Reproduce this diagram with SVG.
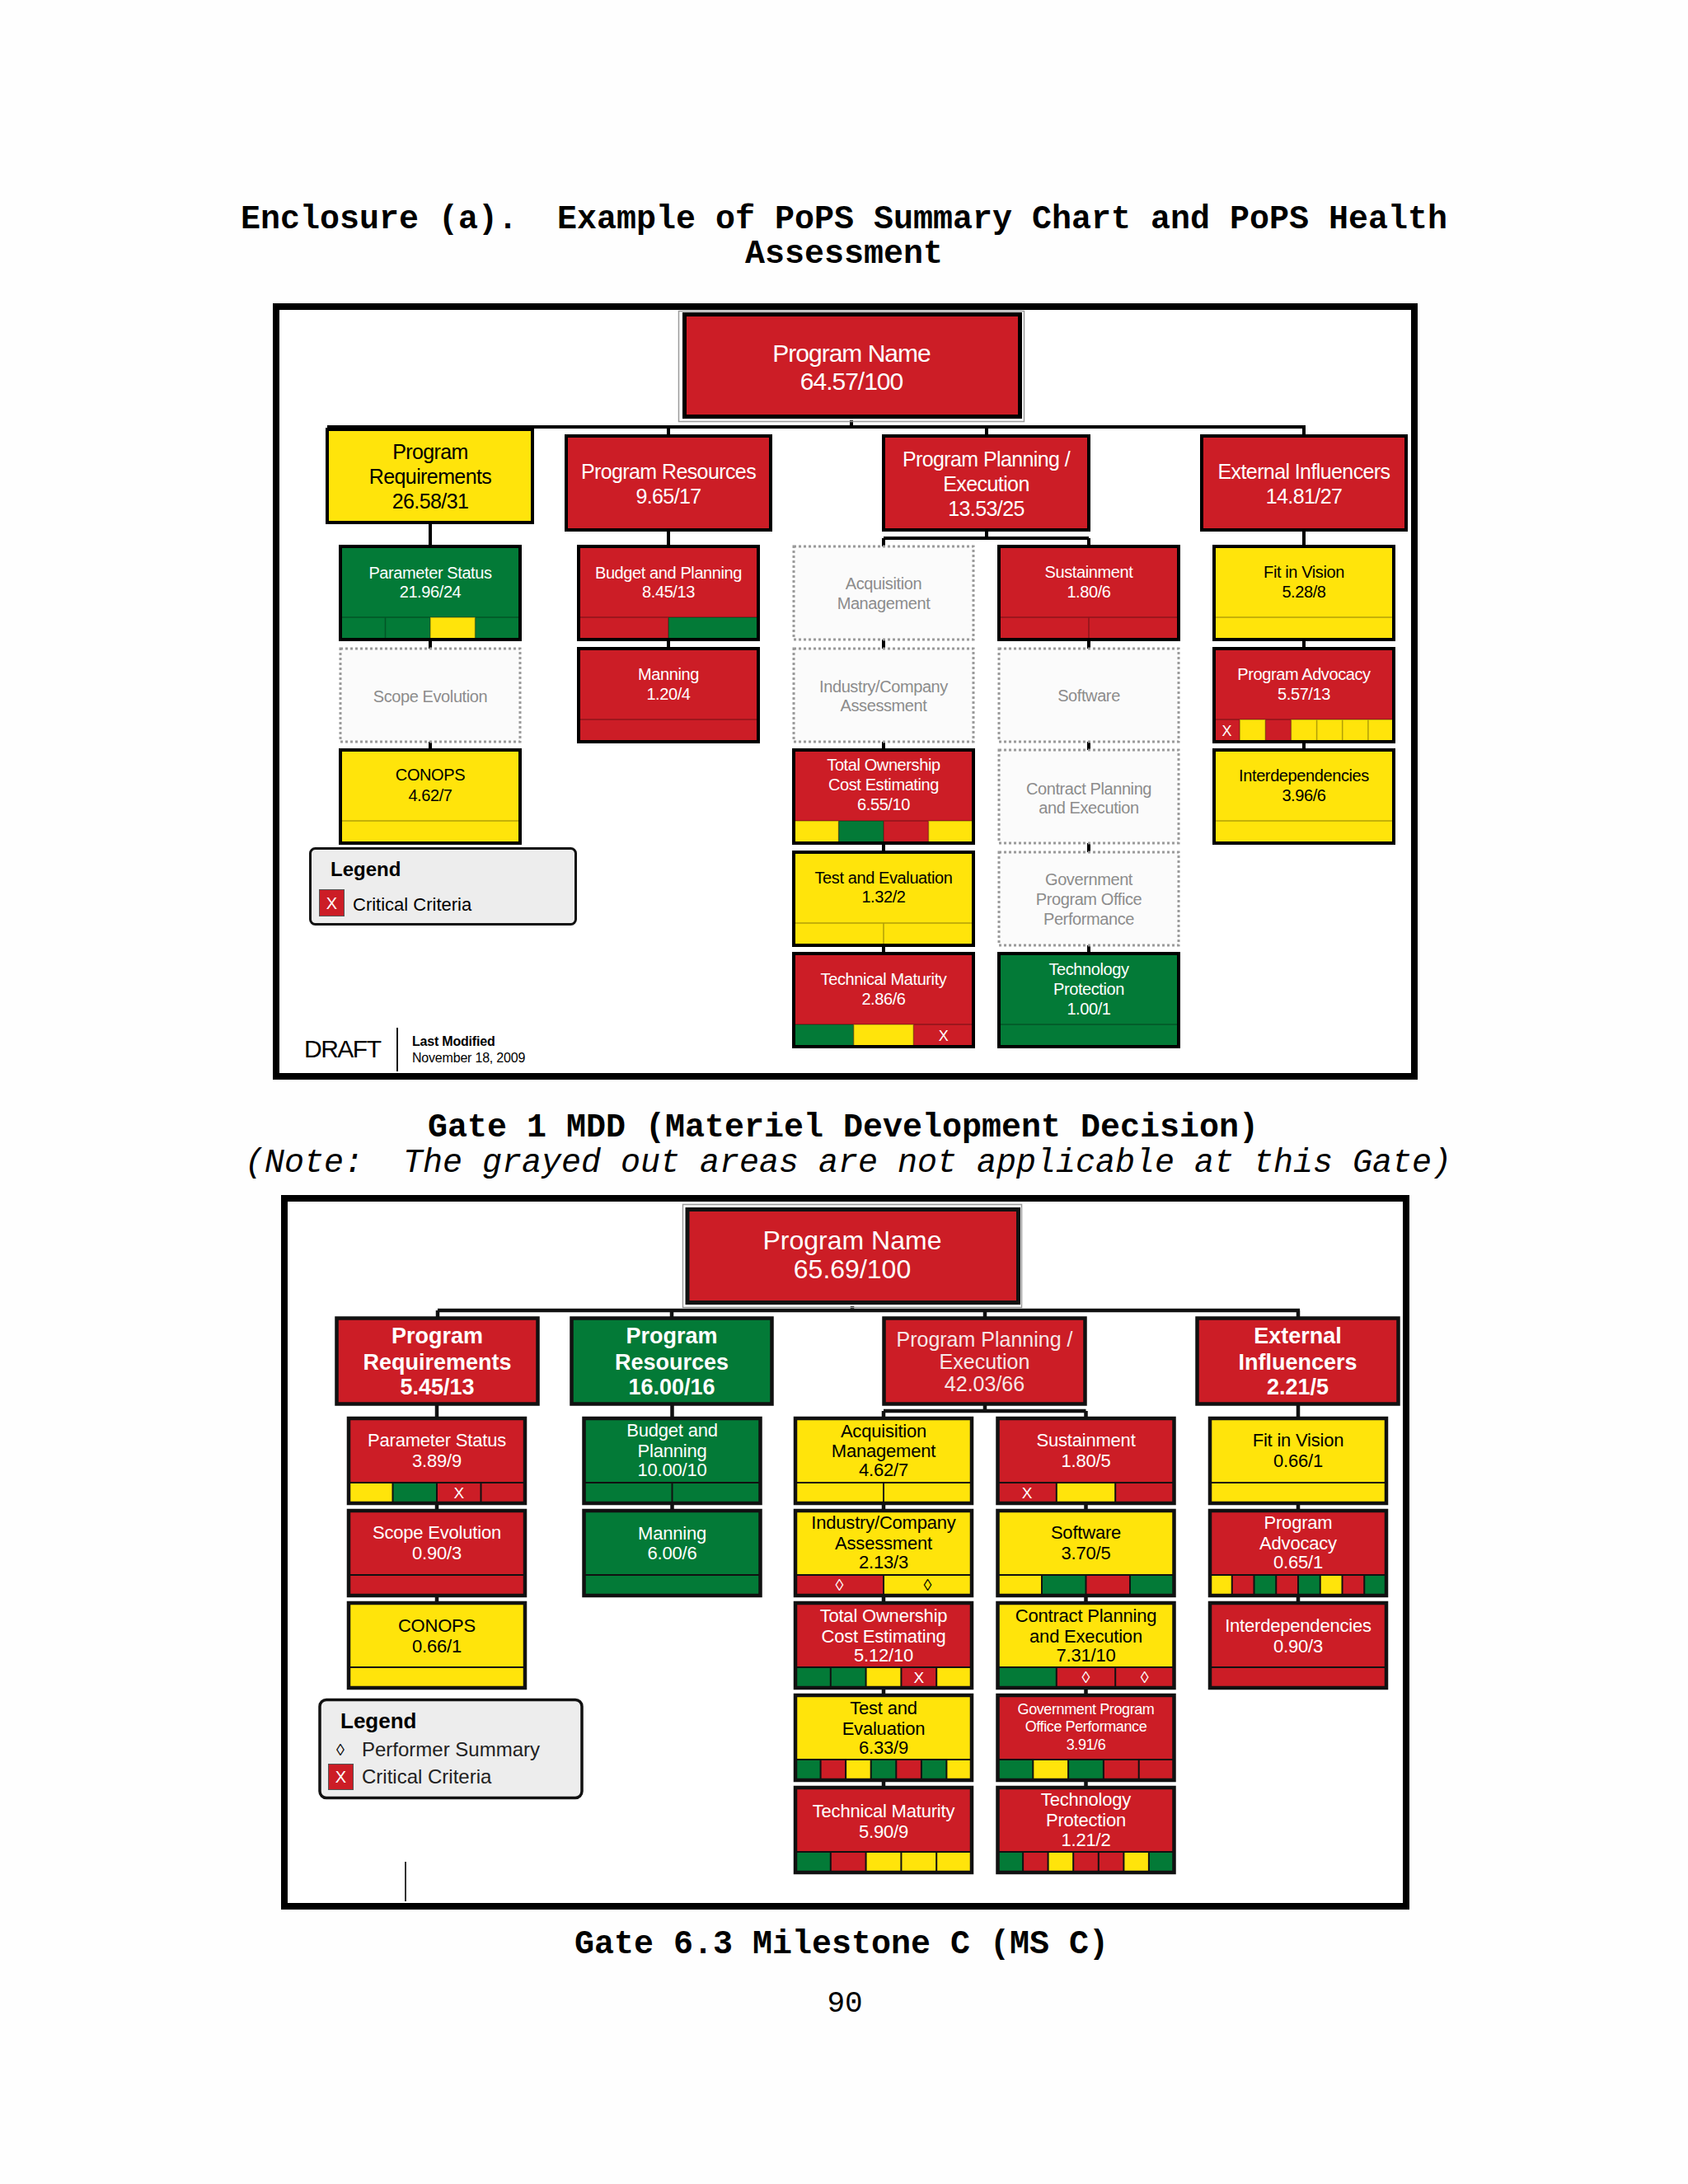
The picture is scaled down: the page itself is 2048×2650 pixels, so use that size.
<svg xmlns="http://www.w3.org/2000/svg" width="2048" height="2650" viewBox="0 0 2048 2650">
<style>
.R{fill:#CC1D26}.Y{fill:#FFE40B}.G{fill:#037A37}
.b{stroke:#000;stroke-width:4}
.b2{stroke:#111;stroke-width:4.5}
.n{fill:none}
.d{fill:#FBFBFB;stroke:#9a9a9a;stroke-width:3;stroke-dasharray:3 3}
.s{fill:none;stroke:rgba(0,0,0,.3);stroke-width:1.5}
.s2{fill:none;stroke:#111;stroke-width:2}
.c{fill:none;stroke:#000;stroke-width:4}
.c2{fill:none;stroke:#111;stroke-width:4.5}
text{font-family:"Liberation Sans",Arial,sans-serif;text-anchor:middle}
.l{text-anchor:start}
.t1{font-size:20px;letter-spacing:-0.4px}
.t2{font-size:25px;letter-spacing:-0.6px}
.u1{font-size:22px;letter-spacing:-0.2px}
.u2{font-size:27px;font-weight:bold}
.w{fill:#fff}.k{fill:#000}.g{fill:#8c8c8c}
.cap{font-family:"Liberation Mono","Courier New",monospace;font-size:40px;font-weight:bold}
</style>
<rect x="0" y="0" width="2048" height="2650" fill="#FEFEFE"/>

<g id="captions">
<text class="cap" x="1024" y="277" xml:space="preserve">Enclosure (a).  Example of PoPS Summary Chart and PoPS Health</text>
<text class="cap" x="1024" y="319">Assessment</text>
<text class="cap" x="1023" y="1379">Gate 1 MDD (Materiel Development Decision)</text>
<text x="1029" y="1422" xml:space="preserve" style="font-family:'Liberation Mono','Courier New',monospace;font-size:40px;font-style:italic">(Note:  The grayed out areas are not applicable at this Gate)</text>
<text class="cap" x="1021" y="2370">Gate 6.3 Milestone C (MS C)</text>
<text x="1025" y="2441" style="font-family:'Liberation Mono','Courier New',monospace;font-size:36px">90</text>
</g>

<!-- ================= TOP CHART ================= -->
<g id="top-frame"><rect x="335" y="372" width="1381" height="934" fill="#fff" stroke="#000" stroke-width="8"/></g>

<g id="top-connectors" class="c">
<path d="M1033 510V518M397 518H1584M811 518V529M1197 518V529M1582 518V529M522 634V663M811 643V663M1197 643V653M1072 653H1321M1072 653V663M1321 653V663M1582 643V663"/>
<path d="M522 776V787M522 900V910M811 776V787M1072 776V787M1072 900V910M1072 1023V1034M1072 1147V1157M1321 776V787M1321 900V910M1321 1023V1034M1321 1147V1157M1582 776V787M1582 900V910"/>
</g>

<g id="t-program-name">
<rect x="823.5" y="377.5" width="419" height="134" fill="none" stroke="#9a9a9a" stroke-width="1.5"/>
<rect x="830.5" y="381.5" width="407" height="124" class="R" stroke="#000" stroke-width="5"/>
<text x="1033" y="439" class="w" style="font-size:30px;letter-spacing:-1px">Program Name</text>
<text x="1033" y="473" class="w" style="font-size:30px;letter-spacing:-1px">64.57/100</text>
</g>

<g id="t-program-requirements">
<rect x="397" y="521" width="249" height="113" class="Y b"/>
<text x="522" y="557" class="t2 k">Program</text>
<text x="522" y="587" class="t2 k">Requirements</text>
<text x="522" y="617" class="t2 k">26.58/31</text>
</g>
<g id="t-program-resources">
<rect x="687" y="529" width="248" height="114" class="R b"/>
<text x="811" y="581" class="t2 w">Program Resources</text>
<text x="811" y="611" class="t2 w">9.65/17</text>
</g>
<g id="t-program-planning">
<rect x="1072" y="529" width="249" height="114" class="R b"/>
<text x="1196.5" y="566" class="t2 w">Program Planning /</text>
<text x="1196.5" y="596" class="t2 w">Execution</text>
<text x="1196.5" y="626" class="t2 w">13.53/25</text>
</g>
<g id="t-external-influencers">
<rect x="1458" y="529" width="248" height="114" class="R b"/>
<text x="1582" y="581" class="t2 w">External Influencers</text>
<text x="1582" y="611" class="t2 w">14.81/27</text>
</g>

<!-- col 1 -->
<g id="t-parameter-status">
<rect x="413" y="663" width="218" height="113" class="G"/>
<rect x="522" y="749" width="54.5" height="27" class="Y"/>
<path class="s" d="M413 749H631M467.5 749V776M522 749V776M576.5 749V776"/>
<rect x="413" y="663" width="218" height="113" class="b n"/>
<text x="522" y="702" class="t1 w">Parameter Status</text>
<text x="522" y="725" class="t1 w">21.96/24</text>
</g>
<g id="t-scope-evolution">
<rect x="413" y="787" width="218" height="113" class="d"/>
<text x="522" y="852" class="t1 g">Scope Evolution</text>
</g>
<g id="t-conops">
<rect x="413" y="910" width="218" height="113" class="Y"/>
<path class="s" d="M413 996H631"/>
<rect x="413" y="910" width="218" height="113" class="b n"/>
<text x="522" y="947" class="t1 k">CONOPS</text>
<text x="522" y="972" class="t1 k">4.62/7</text>
</g>

<!-- col 2 -->
<g id="t-budget-planning">
<rect x="702" y="663" width="218" height="113" class="R"/>
<rect x="811" y="749" width="109" height="27" class="G"/>
<path class="s" d="M702 749H920M811 749V776"/>
<rect x="702" y="663" width="218" height="113" class="b n"/>
<text x="811" y="702" class="t1 w">Budget and Planning</text>
<text x="811" y="725" class="t1 w">8.45/13</text>
</g>
<g id="t-manning">
<rect x="702" y="787" width="218" height="113" class="R"/>
<path class="s" d="M702 873H920"/>
<rect x="702" y="787" width="218" height="113" class="b n"/>
<text x="811" y="825" class="t1 w">Manning</text>
<text x="811" y="849" class="t1 w">1.20/4</text>
</g>

<!-- col 3 -->
<g id="t-acquisition-management">
<rect x="963" y="663" width="218" height="113" class="d"/>
<text x="1072" y="715" class="t1 g">Acquisition</text>
<text x="1072" y="739" class="t1 g">Management</text>
</g>
<g id="t-industry-company">
<rect x="963" y="787" width="218" height="113" class="d"/>
<text x="1072" y="840" class="t1 g">Industry/Company</text>
<text x="1072" y="863" class="t1 g">Assessment</text>
</g>
<g id="t-total-ownership">
<rect x="963" y="910" width="218" height="113" class="R"/>
<rect x="963" y="996" width="54.5" height="27" class="Y"/>
<rect x="1017.5" y="996" width="54.5" height="27" class="G"/>
<rect x="1126.5" y="996" width="54.5" height="27" class="Y"/>
<path class="s" d="M963 996H1181M1017.5 996V1023M1072 996V1023M1126.5 996V1023"/>
<rect x="963" y="910" width="218" height="113" class="b n"/>
<text x="1072" y="935" class="t1 w">Total Ownership</text>
<text x="1072" y="959" class="t1 w">Cost Estimating</text>
<text x="1072" y="983" class="t1 w">6.55/10</text>
</g>
<g id="t-test-evaluation">
<rect x="963" y="1034" width="218" height="113" class="Y"/>
<path class="s" d="M963 1120H1181M1072 1120V1147"/>
<rect x="963" y="1034" width="218" height="113" class="b n"/>
<text x="1072" y="1072" class="t1 k">Test and Evaluation</text>
<text x="1072" y="1095" class="t1 k">1.32/2</text>
</g>
<g id="t-technical-maturity">
<rect x="963" y="1157" width="218" height="113" class="R"/>
<rect x="963" y="1243" width="72.7" height="27" class="G"/>
<rect x="1035.7" y="1243" width="72.6" height="27" class="Y"/>
<path class="s" d="M963 1243H1181M1035.7 1243V1270M1108.3 1243V1270"/>
<rect x="963" y="1157" width="218" height="113" class="b n"/>
<text x="1144.7" y="1263" class="w" style="font-size:18px">X</text>
<text x="1072" y="1195" class="t1 w">Technical Maturity</text>
<text x="1072" y="1219" class="t1 w">2.86/6</text>
</g>

<!-- col 4 -->
<g id="t-sustainment">
<rect x="1212" y="663" width="218" height="113" class="R"/>
<path class="s" d="M1212 749H1430M1321 749V776"/>
<rect x="1212" y="663" width="218" height="113" class="b n"/>
<text x="1321" y="701" class="t1 w">Sustainment</text>
<text x="1321" y="725" class="t1 w">1.80/6</text>
</g>
<g id="t-software">
<rect x="1212" y="787" width="218" height="113" class="d"/>
<text x="1321" y="851" class="t1 g">Software</text>
</g>
<g id="t-contract-planning">
<rect x="1212" y="910" width="218" height="113" class="d"/>
<text x="1321" y="964" class="t1 g">Contract Planning</text>
<text x="1321" y="987" class="t1 g">and Execution</text>
</g>
<g id="t-government-program">
<rect x="1212" y="1034" width="218" height="113" class="d"/>
<text x="1321" y="1074" class="t1 g">Government</text>
<text x="1321" y="1098" class="t1 g">Program Office</text>
<text x="1321" y="1122" class="t1 g">Performance</text>
</g>
<g id="t-technology-protection">
<rect x="1212" y="1157" width="218" height="113" class="G"/>
<path class="s" d="M1212 1243H1430"/>
<rect x="1212" y="1157" width="218" height="113" class="b n"/>
<text x="1321" y="1183" class="t1 w">Technology</text>
<text x="1321" y="1207" class="t1 w">Protection</text>
<text x="1321" y="1231" class="t1 w">1.00/1</text>
</g>

<!-- col 5 -->
<g id="t-fit-in-vision">
<rect x="1473" y="663" width="218" height="113" class="Y"/>
<path class="s" d="M1473 749H1691"/>
<rect x="1473" y="663" width="218" height="113" class="b n"/>
<text x="1582" y="701" class="t1 k">Fit in Vision</text>
<text x="1582" y="725" class="t1 k">5.28/8</text>
</g>
<g id="t-program-advocacy">
<rect x="1473" y="787" width="218" height="113" class="R"/>
<rect x="1504.1" y="873" width="31.2" height="27" class="Y"/>
<rect x="1566.4" y="873" width="124.6" height="27" class="Y"/>
<path class="s" d="M1473 873H1691M1504.1 873V900M1535.3 873V900M1566.4 873V900M1597.6 873V900M1628.7 873V900M1659.9 873V900"/>
<rect x="1473" y="787" width="218" height="113" class="b n"/>
<text x="1488.6" y="893" class="w" style="font-size:18px">X</text>
<text x="1582" y="825" class="t1 w">Program Advocacy</text>
<text x="1582" y="849" class="t1 w">5.57/13</text>
</g>
<g id="t-interdependencies">
<rect x="1473" y="910" width="218" height="113" class="Y"/>
<path class="s" d="M1473 996H1691"/>
<rect x="1473" y="910" width="218" height="113" class="b n"/>
<text x="1582" y="948" class="t1 k">Interdependencies</text>
<text x="1582" y="972" class="t1 k">3.96/6</text>
</g>

<g id="t-legend">
<rect x="376.5" y="1029.5" width="322" height="92" rx="6" fill="#EDEDED" stroke="#111" stroke-width="3"/>
<text x="401" y="1063" class="l" style="font-size:24px;font-weight:bold">Legend</text>
<rect x="387.5" y="1079.5" width="30" height="32" class="R" stroke="#555" stroke-width="1"/>
<text x="402.5" y="1103" class="w" style="font-size:20px">X</text>
<text x="428" y="1105" class="l" style="font-size:22px">Critical Criteria</text>
</g>

<g id="t-draft">
<text x="369" y="1283" class="l" style="font-size:30px;letter-spacing:-1.5px">DRAFT</text>
<line x1="482" y1="1247" x2="482" y2="1300" stroke="#111" stroke-width="2"/>
<text x="500" y="1269" class="l" style="font-size:16px;font-weight:bold;letter-spacing:-0.2px">Last Modified</text>
<text x="500" y="1289" class="l" style="font-size:16px;letter-spacing:-0.2px">November 18, 2009</text>
</g>

<!-- ================= BOTTOM CHART ================= -->
<g id="bottom-frame"><rect x="345" y="1454" width="1361" height="859" fill="#fff" stroke="#000" stroke-width="8"/></g>

<g id="bottom-connectors" class="c2">
<path d="M1034 1585V1590M531 1590H1577M531 1590V1600M815 1590V1600M1195 1590V1600M1575 1590V1600M530 1704V1721M815.5 1704V1721M1195 1704V1712M1072 1712H1317.5M1072 1712V1721M1317.5 1712V1721M1575 1704V1721"/>
<path d="M530 1824V1833M530 1936V1945M815.5 1824V1833M1072 1824V1833M1072 1936V1945M1072 2048V2057M1072 2160V2169M1317.5 1824V1833M1317.5 1936V1945M1317.5 2048V2057M1317.5 2160V2169M1575 1824V1833M1575 1936V1945"/>
</g>

<g id="b-program-name">
<rect x="828.5" y="1461.5" width="411" height="125" fill="none" stroke="#9a9a9a" stroke-width="1.5"/>
<rect x="834" y="1467.5" width="401.5" height="113" class="R" stroke="#111" stroke-width="5"/>
<text x="1034" y="1516" class="w" style="font-size:32px">Program Name</text>
<text x="1034" y="1551" class="w" style="font-size:32px">65.69/100</text>
</g>

<g id="b-program-requirements">
<rect x="408.5" y="1599.5" width="244" height="104" class="R b2"/>
<text x="530.5" y="1630" class="u2 w">Program</text>
<text x="530.5" y="1662" class="u2 w">Requirements</text>
<text x="530.5" y="1692" class="u2 w">5.45/13</text>
</g>
<g id="b-program-resources">
<rect x="693.5" y="1599.5" width="243" height="104" class="G b2"/>
<text x="815" y="1630" class="u2 w">Program</text>
<text x="815" y="1662" class="u2 w">Resources</text>
<text x="815" y="1692" class="u2 w">16.00/16</text>
</g>
<g id="b-program-planning">
<rect x="1072.5" y="1599.5" width="244" height="104" class="R b2"/>
<text x="1194.5" y="1634" style="font-size:25px;fill:#f6e6e6">Program Planning /</text>
<text x="1194.5" y="1661" style="font-size:25px;fill:#f6e6e6">Execution</text>
<text x="1194.5" y="1688" style="font-size:25px;fill:#f6e6e6">42.03/66</text>
</g>
<g id="b-external-influencers">
<rect x="1452.5" y="1599.5" width="244" height="104" class="R b2"/>
<text x="1574.5" y="1630" class="u2 w">External</text>
<text x="1574.5" y="1662" class="u2 w">Influencers</text>
<text x="1574.5" y="1692" class="u2 w">2.21/5</text>
</g>

<!-- col 1 -->
<g id="b-parameter-status">
<rect x="423" y="1721" width="214" height="103" class="R"/>
<rect x="423" y="1799" width="53.5" height="25" class="Y"/>
<rect x="476.5" y="1799" width="53.5" height="25" class="G"/>
<path class="s2" d="M423 1799H637M476.5 1799V1824M530 1799V1824M583.5 1799V1824"/>
<rect x="423" y="1721" width="214" height="103" class="b2 n"/>
<text x="556.8" y="1818" class="w" style="font-size:19px">X</text>
<text x="530" y="1755" class="u1 w">Parameter Status</text>
<text x="530" y="1780" class="u1 w">3.89/9</text>
</g>
<g id="b-scope-evolution">
<rect x="423" y="1833" width="214" height="103" class="R"/>
<path class="s2" d="M423 1911H637"/>
<rect x="423" y="1833" width="214" height="103" class="b2 n"/>
<text x="530" y="1867" class="u1 w">Scope Evolution</text>
<text x="530" y="1892" class="u1 w">0.90/3</text>
</g>
<g id="b-conops">
<rect x="423" y="1945" width="214" height="103" class="Y"/>
<path class="s2" d="M423 2023H637"/>
<rect x="423" y="1945" width="214" height="103" class="b2 n"/>
<text x="530" y="1980" class="u1 k">CONOPS</text>
<text x="530" y="2005" class="u1 k">0.66/1</text>
</g>

<!-- col 2 -->
<g id="b-budget-planning">
<rect x="708.5" y="1721" width="214" height="103" class="G"/>
<path class="s2" d="M708.5 1799H922.5M815.5 1799V1824"/>
<rect x="708.5" y="1721" width="214" height="103" class="b2 n"/>
<text x="815.5" y="1743" class="u1 w">Budget and</text>
<text x="815.5" y="1768" class="u1 w">Planning</text>
<text x="815.5" y="1791" class="u1 w">10.00/10</text>
</g>
<g id="b-manning">
<rect x="708.5" y="1833" width="214" height="103" class="G"/>
<path class="s2" d="M708.5 1911H922.5"/>
<rect x="708.5" y="1833" width="214" height="103" class="b2 n"/>
<text x="815.5" y="1868" class="u1 w">Manning</text>
<text x="815.5" y="1892" class="u1 w">6.00/6</text>
</g>

<!-- col 3 -->
<g id="b-acquisition-management">
<rect x="965" y="1721" width="214" height="103" class="Y"/>
<path class="s2" d="M965 1799H1179M1072 1799V1824"/>
<rect x="965" y="1721" width="214" height="103" class="b2 n"/>
<text x="1072" y="1744" class="u1 k">Acquisition</text>
<text x="1072" y="1768" class="u1 k">Management</text>
<text x="1072" y="1791" class="u1 k">4.62/7</text>
</g>
<g id="b-industry-company">
<rect x="965" y="1833" width="214" height="103" class="Y"/>
<rect x="965" y="1911" width="107" height="25" class="R"/>
<path class="s2" d="M965 1911H1179M1072 1911V1936"/>
<rect x="965" y="1833" width="214" height="103" class="b2 n"/>
<text x="1018.5" y="1930" class="w" style="font-size:20px">◊</text>
<text x="1125.5" y="1930" class="k" style="font-size:20px">◊</text>
<text x="1072" y="1855" class="u1 k">Industry/Company</text>
<text x="1072" y="1880" class="u1 k">Assessment</text>
<text x="1072" y="1903" class="u1 k">2.13/3</text>
</g>
<g id="b-total-ownership">
<rect x="965" y="1945" width="214" height="103" class="R"/>
<rect x="965" y="2023" width="85.6" height="25" class="G"/>
<rect x="1050.6" y="2023" width="42.8" height="25" class="Y"/>
<rect x="1136.2" y="2023" width="42.8" height="25" class="Y"/>
<path class="s2" d="M965 2023H1179M1007.8 2023V2048M1050.6 2023V2048M1093.4 2023V2048M1136.2 2023V2048"/>
<rect x="965" y="1945" width="214" height="103" class="b2 n"/>
<text x="1114.8" y="2042" class="w" style="font-size:19px">X</text>
<text x="1072" y="1968" class="u1 w">Total Ownership</text>
<text x="1072" y="1993" class="u1 w">Cost Estimating</text>
<text x="1072" y="2016" class="u1 w">5.12/10</text>
</g>
<g id="b-test-evaluation">
<rect x="965" y="2057" width="214" height="103" class="Y"/>
<rect x="965" y="2135" width="30.6" height="25" class="G"/>
<rect x="995.6" y="2135" width="30.5" height="25" class="R"/>
<rect x="1056.7" y="2135" width="30.6" height="25" class="G"/>
<rect x="1087.3" y="2135" width="30.6" height="25" class="R"/>
<rect x="1117.9" y="2135" width="30.5" height="25" class="G"/>
<path class="s2" d="M965 2135H1179M995.6 2135V2160M1026.1 2135V2160M1056.7 2135V2160M1087.3 2135V2160M1117.9 2135V2160M1148.4 2135V2160"/>
<rect x="965" y="2057" width="214" height="103" class="b2 n"/>
<text x="1072" y="2080" class="u1 k">Test and</text>
<text x="1072" y="2105" class="u1 k">Evaluation</text>
<text x="1072" y="2128" class="u1 k">6.33/9</text>
</g>
<g id="b-technical-maturity">
<rect x="965" y="2169" width="214" height="103" class="R"/>
<rect x="965" y="2247" width="42.8" height="25" class="G"/>
<rect x="1050.6" y="2247" width="128.4" height="25" class="Y"/>
<path class="s2" d="M965 2247H1179M1007.8 2247V2272M1050.6 2247V2272M1093.4 2247V2272M1136.2 2247V2272"/>
<rect x="965" y="2169" width="214" height="103" class="b2 n"/>
<text x="1072" y="2205" class="u1 w">Technical Maturity</text>
<text x="1072" y="2230" class="u1 w">5.90/9</text>
</g>

<!-- col 4 -->
<g id="b-sustainment">
<rect x="1210.5" y="1721" width="214" height="103" class="R"/>
<rect x="1281.8" y="1799" width="71.4" height="25" class="Y"/>
<path class="s2" d="M1210.5 1799H1424.5M1281.8 1799V1824M1353.2 1799V1824"/>
<rect x="1210.5" y="1721" width="214" height="103" class="b2 n"/>
<text x="1246.2" y="1818" class="w" style="font-size:19px">X</text>
<text x="1317.5" y="1755" class="u1 w">Sustainment</text>
<text x="1317.5" y="1780" class="u1 w">1.80/5</text>
</g>
<g id="b-software">
<rect x="1210.5" y="1833" width="214" height="103" class="Y"/>
<rect x="1264" y="1911" width="53.5" height="25" class="G"/>
<rect x="1317.5" y="1911" width="53.5" height="25" class="R"/>
<rect x="1371" y="1911" width="53.5" height="25" class="G"/>
<path class="s2" d="M1210.5 1911H1424.5M1264 1911V1936M1317.5 1911V1936M1371 1911V1936"/>
<rect x="1210.5" y="1833" width="214" height="103" class="b2 n"/>
<text x="1317.5" y="1867" class="u1 k">Software</text>
<text x="1317.5" y="1892" class="u1 k">3.70/5</text>
</g>
<g id="b-contract-planning">
<rect x="1210.5" y="1945" width="214" height="103" class="Y"/>
<rect x="1210.5" y="2023" width="71.3" height="25" class="G"/>
<rect x="1281.8" y="2023" width="142.7" height="25" class="R"/>
<path class="s2" d="M1210.5 2023H1424.5M1281.8 2023V2048M1353.2 2023V2048"/>
<rect x="1210.5" y="1945" width="214" height="103" class="b2 n"/>
<text x="1317.5" y="2042" class="w" style="font-size:20px">◊</text>
<text x="1388.8" y="2042" class="w" style="font-size:20px">◊</text>
<text x="1317.5" y="1968" class="u1 k">Contract Planning</text>
<text x="1317.5" y="1993" class="u1 k">and Execution</text>
<text x="1317.5" y="2016" class="u1 k">7.31/10</text>
</g>
<g id="b-government-program">
<rect x="1210.5" y="2057" width="214" height="103" class="R"/>
<rect x="1210.5" y="2135" width="42.8" height="25" class="G"/>
<rect x="1253.3" y="2135" width="42.8" height="25" class="Y"/>
<rect x="1296.1" y="2135" width="42.8" height="25" class="G"/>
<path class="s2" d="M1210.5 2135H1424.5M1253.3 2135V2160M1296.1 2135V2160M1338.9 2135V2160M1381.7 2135V2160"/>
<rect x="1210.5" y="2057" width="214" height="103" class="b2 n"/>
<text x="1317.5" y="2080" class="w" style="font-size:18px;letter-spacing:-0.4px">Government Program</text>
<text x="1317.5" y="2101" class="w" style="font-size:18px;letter-spacing:-0.4px">Office Performance</text>
<text x="1317.5" y="2123" class="w" style="font-size:18px;letter-spacing:-0.4px">3.91/6</text>
</g>
<g id="b-technology-protection">
<rect x="1210.5" y="2169" width="214" height="103" class="R"/>
<rect x="1210.5" y="2247" width="30.6" height="25" class="G"/>
<rect x="1271.6" y="2247" width="30.6" height="25" class="Y"/>
<rect x="1363.4" y="2247" width="30.5" height="25" class="Y"/>
<rect x="1393.9" y="2247" width="30.6" height="25" class="G"/>
<path class="s2" d="M1210.5 2247H1424.5M1241.1 2247V2272M1271.6 2247V2272M1302.2 2247V2272M1332.8 2247V2272M1363.4 2247V2272M1393.9 2247V2272"/>
<rect x="1210.5" y="2169" width="214" height="103" class="b2 n"/>
<text x="1317.5" y="2191" class="u1 w">Technology</text>
<text x="1317.5" y="2216" class="u1 w">Protection</text>
<text x="1317.5" y="2240" class="u1 w">1.21/2</text>
</g>

<!-- col 5 -->
<g id="b-fit-in-vision">
<rect x="1468" y="1721" width="214" height="103" class="Y"/>
<path class="s2" d="M1468 1799H1682"/>
<rect x="1468" y="1721" width="214" height="103" class="b2 n"/>
<text x="1575" y="1755" class="u1 k">Fit in Vision</text>
<text x="1575" y="1780" class="u1 k">0.66/1</text>
</g>
<g id="b-program-advocacy">
<rect x="1468" y="1833" width="214" height="103" class="R"/>
<rect x="1468" y="1911" width="26.75" height="25" class="Y"/>
<rect x="1521.5" y="1911" width="26.75" height="25" class="G"/>
<rect x="1575" y="1911" width="26.75" height="25" class="G"/>
<rect x="1601.75" y="1911" width="26.75" height="25" class="Y"/>
<rect x="1655.25" y="1911" width="26.75" height="25" class="G"/>
<path class="s2" d="M1468 1911H1682M1494.75 1911V1936M1521.5 1911V1936M1548.25 1911V1936M1575 1911V1936M1601.75 1911V1936M1628.5 1911V1936M1655.25 1911V1936"/>
<rect x="1468" y="1833" width="214" height="103" class="b2 n"/>
<text x="1575" y="1855" class="u1 w">Program</text>
<text x="1575" y="1880" class="u1 w">Advocacy</text>
<text x="1575" y="1903" class="u1 w">0.65/1</text>
</g>
<g id="b-interdependencies">
<rect x="1468" y="1945" width="214" height="103" class="R"/>
<path class="s2" d="M1468 2023H1682"/>
<rect x="1468" y="1945" width="214" height="103" class="b2 n"/>
<text x="1575" y="1980" class="u1 w">Interdependencies</text>
<text x="1575" y="2005" class="u1 w">0.90/3</text>
</g>

<g id="b-legend">
<rect x="388" y="2062.5" width="318" height="119" rx="8" fill="#EDEDED" stroke="#111" stroke-width="3.5"/>
<text x="413" y="2097" class="l" style="font-size:26px;font-weight:bold">Legend</text>
<text x="413" y="2130" class="k" style="font-size:20px">◊</text>
<text x="439" y="2131" class="l" style="font-size:24px;fill:#222">Performer Summary</text>
<rect x="398.5" y="2140.5" width="30" height="31" class="R" stroke="#555" stroke-width="1"/>
<text x="413.5" y="2163" class="w" style="font-size:20px">X</text>
<text x="439" y="2164" class="l" style="font-size:24px;fill:#222">Critical Criteria</text>
</g>
<g id="b-marker"><line x1="492" y1="2259" x2="492" y2="2307" stroke="#333" stroke-width="2"/></g>
</svg>
